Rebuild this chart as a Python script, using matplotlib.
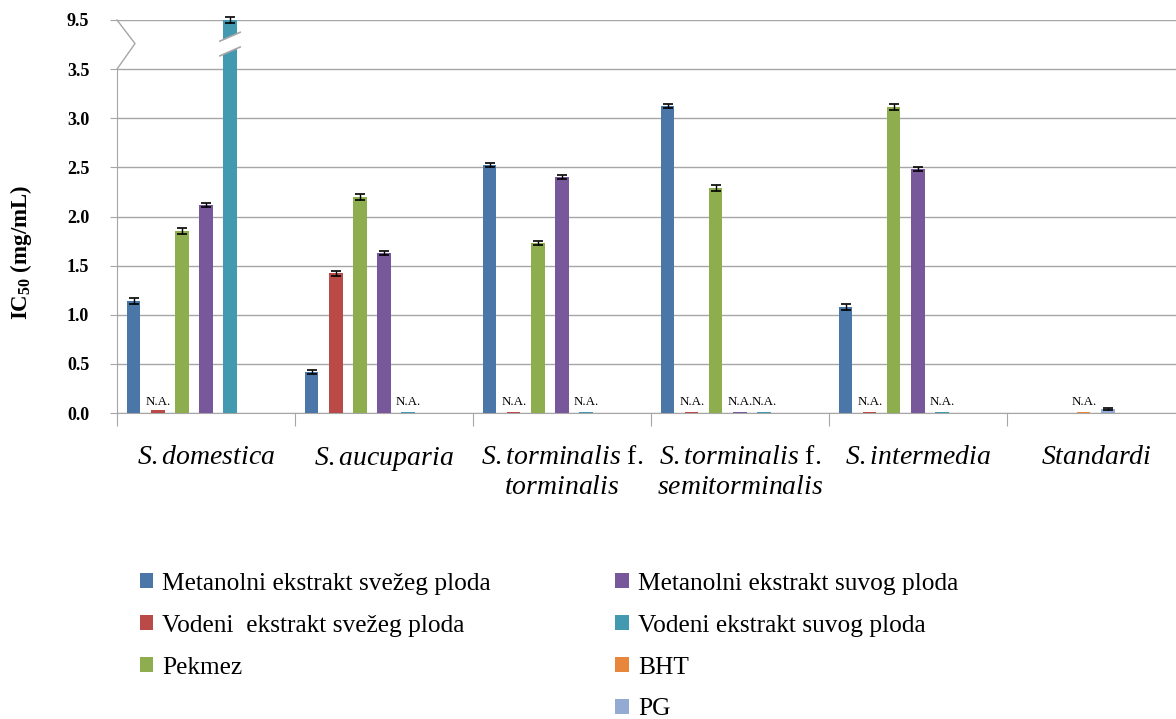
import numpy as np
import matplotlib
matplotlib.use('Agg')
import matplotlib.pyplot as plt
from matplotlib.patches import Patch, Polygon
import matplotlib.transforms as mtransforms

plt.rcParams['font.family'] = 'Liberation Serif'
plt.rcParams['mathtext.fontset'] = 'custom'
plt.rcParams['mathtext.rm'] = 'Liberation Serif'
plt.rcParams['mathtext.it'] = 'Liberation Serif:italic'
plt.rcParams['mathtext.bf'] = 'Liberation Serif:bold'

categories = ['S.domestica', 'S.aucuparia', 'S.torminalis f. torminalis',
              'S.torminalis f. semitorminalis', 'S.intermedia', 'Standardi']
cat_labels = [r'$\mathit{S.domestica}$',
              r'$\mathit{S.aucuparia}$',
              r'$\mathit{S.torminalis}$ f.' + '\n' + r'$\mathit{torminalis}$',
              r'$\mathit{S.torminalis}$ f.' + '\n' + r'$\mathit{semitorminalis}$',
              r'$\mathit{S.intermedia}$',
              r'$\mathit{Standardi}$']

series = ['Metanolni ekstrakt svežeg ploda', 'Vodeni  ekstrakt svežeg ploda', 'Pekmez',
          'Metanolni ekstrakt suvog ploda', 'Vodeni ekstrakt suvog ploda', 'BHT', 'PG']
colors = ['#4A76A8', '#B94A48', '#8EAD4F', '#77599B', '#4399B0', '#E8863C', '#93AAD2']

# IC50 values (mg/mL), None = not measured in that group
met_fresh = [1.14, 0.42, 2.52, 3.12, 1.08, None]
aq_fresh  = [0.03, 1.42, 0.015, 0.015, 0.015, None]
pekmez    = [1.85, 2.20, 1.73, 2.29, 3.11, None]
met_dry   = [2.12, 1.63, 2.40, 0.015, 2.48, None]
aq_dry    = [9.5, 0.015, 0.015, 0.015, 0.015, None]
bht       = [None, None, None, None, None, 0.015]
pg        = [None, None, None, None, None, 0.045]
values = [met_fresh, aq_fresh, pekmez, met_dry, aq_dry, bht, pg]

err_met_fresh = [0.03, 0.02, 0.02, 0.02, 0.03, 0]
err_aq_fresh  = [0, 0.03, 0, 0, 0, 0]
err_pekmez    = [0.03, 0.03, 0.02, 0.03, 0.03, 0]
err_met_dry   = [0.02, 0.02, 0.02, 0, 0.02, 0]
err_aq_dry    = [0.03, 0, 0, 0, 0, 0]
err_bht       = [0, 0, 0, 0, 0, 0]
err_pg        = [0, 0, 0, 0, 0, 0.01]
errors = [err_met_fresh, err_aq_fresh, err_pekmez, err_met_dry, err_aq_dry, err_bht, err_pg]

# N.A. markers: (series index, category index)
na_marks = [(1, 0), (4, 1), (1, 2), (4, 2), (1, 3), (3, 3), (4, 3), (1, 4), (4, 4), (5, 5)]

y_ticks = [0.0, 0.5, 1.0, 1.5, 2.0, 2.5, 3.0, 3.5, 9.5]


def to_axis(v):
    # broken scale: linear up to 3.5, then 3.5..9.5 squeezed into one step
    return v if v <= 3.5 else 3.5 + (v - 3.5) * 0.5 / 6.0


fig = plt.figure(figsize=(11.76, 7.19), dpi=100)
ax = fig.add_axes([117 / 1176, (719 - 413) / 719, 1059 / 1176, 393 / 719])

pitch = 0.135
width = 0.074
grid_c = '#A6A6A6'
bar_pos = {}
for c in range(len(categories)):
    present = [s for s in range(len(series)) if values[s][c] is not None]
    if c < 5:
        slots = {s: s - 3 for s in range(len(series))}
    else:
        slots = {s: k - (len(present) - 1) / 2 for k, s in enumerate(present)}
    for s in present:
        x = c + slots[s] * pitch
        v = values[s][c]
        ax.bar(x, to_axis(v), width=width, color=colors[s], zorder=3)
        if errors[s][c] > 0:
            ax.errorbar(x, to_axis(v), yerr=errors[s][c], fmt='none', ecolor='black',
                        elinewidth=1, capsize=3.5, capthick=1.2, zorder=4, clip_on=False)
        bar_pos[(s, c)] = x

for s, c in na_marks:
    x = bar_pos[(s, c)]
    ax.text(x, 0.055, 'N.A.', ha='center', va='bottom', fontsize=9.4, zorder=5)

# break drawn across the tall bar
xb = bar_pos[(4, 0)]
hw = width / 2 + 0.02
y1, y2 = 3.68, 3.83
tilt = 0.09
ax.add_patch(Polygon([[xb - hw, y1 - tilt / 2], [xb + hw, y1 + tilt / 2],
                      [xb + hw, y2 + tilt / 2], [xb - hw, y2 - tilt / 2]],
                     closed=True, facecolor='white', edgecolor='none', zorder=5))
for yy in (y1, y2):
    ax.plot([xb - hw, xb + hw], [yy - tilt / 2, yy + tilt / 2], color=grid_c, lw=1.2, zorder=6)

ax.set_xlim(-0.5, 5.45)
ax.set_ylim(0, 4.0)

ax.set_yticks([to_axis(t) for t in y_ticks])
ax.set_yticklabels(['%.1f' % t for t in y_ticks], fontsize=13, fontweight='bold')
ax.tick_params(axis='y', length=5, color=grid_c, pad=15)
ax.yaxis.grid(True, color=grid_c, lw=1, zorder=0)

ax.set_xticks(np.arange(-0.5, 5.5, 1.0))
ax.set_xticklabels([])
ax.set_xticks(np.arange(len(categories)), minor=True)
ax.set_xticklabels(cat_labels, minor=True, fontsize=20, linespacing=1.25, va='top')
ax.tick_params(axis='x', which='major', length=9, color=grid_c)
ax.tick_params(axis='x', which='minor', length=0, pad=23)

for side in ('top', 'right'):
    ax.spines[side].set_visible(False)
ax.spines['left'].set_color(grid_c)
ax.spines['bottom'].set_color(grid_c)
ax.spines['left'].set_bounds(0, 3.5)

# zig-zag break on the value axis
trans = mtransforms.blended_transform_factory(ax.transAxes, ax.transData)
ax.plot([0, 0.017, 0], [4.0, 3.76, 3.5], color=grid_c, lw=1, transform=trans, clip_on=False)

fig.text(21 / 1176, (719 - 252) / 719, r'IC$_{\mathbf{50}}$ (mg/mL)', rotation=90,
         ha='center', va='center', fontsize=16.5, fontweight='bold')

handles = [Patch(facecolor=colors[i]) for i in range(3)]
handles += [Patch(facecolor='none', edgecolor='none')]
handles += [Patch(facecolor=colors[i]) for i in range(3, 7)]
labels = series[:3] + [''] + series[3:]
fig.legend(handles, labels, ncol=2, loc='upper left', bbox_to_anchor=(117 / 1176, 1 - 550 / 719),
           frameon=False, fontsize=18.3, handlelength=0.52, handleheight=0.52, handletextpad=0.36,
           labelspacing=0.78, columnspacing=4.9)

fig.savefig('out.png', dpi=100)
